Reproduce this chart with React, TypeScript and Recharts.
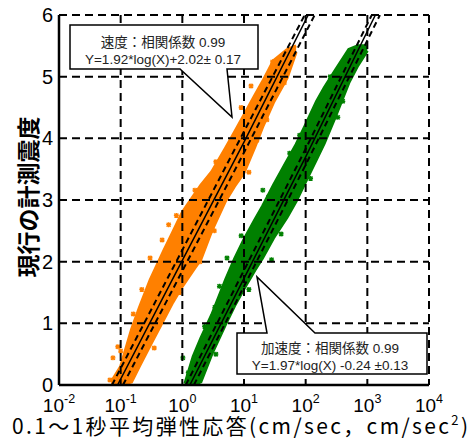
import React from "react";
import {
  ComposedChart,
  Area,
  Line,
  Scatter,
  XAxis,
  YAxis,
  CartesianGrid,
} from "recharts";

const W = 476;
const H = 443;
const ORANGE = "#ff8000";
const GREEN = "#008000";
const NUM_FONT = "'Liberation Sans', Arial, sans-serif";
const JP_FONT = "'Noto Sans CJK JP', sans-serif";
const MIX_FONT = "'Liberation Sans', Arial, 'Noto Sans CJK JP', sans-serif";

// axis ticks
const xTicks = [0.01, 0.1, 1, 10, 100, 1000, 10000];
const yTicks = [0, 1, 2, 3, 4, 5, 6];
const yMinorTicks = [0.5, 1.5, 2.5, 3.5, 4.5, 5.5];
const xMinorTicks = [0.01, 0.1, 1, 10, 100, 1000].flatMap((d) =>
  [2, 3, 4, 5, 6, 7, 8, 9].map((m) => +(m * d).toPrecision(2))
);

// velocity (orange) cloud: dense band
const velBandX = [0.07, 0.1, 0.15, 0.2, 0.3, 0.5, 0.7, 1, 1.5, 2, 3, 5, 7, 10, 15, 20, 30, 50, 70];
const velBandLo = [0, 0, 0.05, 0.3, 0.64, 1.06, 1.34, 1.6, 1.86, 2.04, 2.5, 2.98, 3.22, 3.44, 3.86, 4.18, 4.58, 4.98, 5.4];
const velBandHi = [0.05, 0.3, 0.9, 1.25, 1.7, 2.18, 2.48, 2.8, 3.06, 3.24, 3.46, 3.84, 4.1, 4.38, 4.7, 4.92, 5.26, 5.44, 5.5];
// loose points around the velocity band
const velPtsX = [0.067, 0.075, 0.09, 0.3, 0.47, 1.93, 2.16, 1.6, 5.9, 16.2, 23.5, 29, 0.6, 0.1, 0.16, 0.22, 0.8, 3.5, 9, 13, 0.35, 0.9, 3.3, 12, 45];
const velPtsY = [0.08, 0.44, 0.62, 2.06, 2.35, 2.0, 2.46, 3.16, 3.6, 3.97, 4.3, 5.24, 2.6, 0.55, 1.15, 1.55, 2.75, 3.62, 4.5, 4.85, 0.6, 1.5, 2.5, 3.45, 4.9];

// acceleration (green) cloud
const accBandX = [1.1, 1.5, 2, 3, 5, 7, 10, 15, 20, 30, 50, 70, 100, 150, 200, 300, 500, 700, 1000];
const accBandLo = [0, 0, 0.05, 0.5, 0.98, 1.28, 1.56, 1.86, 2.06, 2.38, 2.72, 2.98, 3.3, 3.66, 3.92, 4.34, 4.9, 5.18, 5.42];
const accBandHi = [0.02, 0.46, 0.76, 1.14, 1.7, 2.04, 2.36, 2.68, 2.9, 3.24, 3.64, 3.9, 4.22, 4.6, 4.82, 5.1, 5.44, 5.5, 5.5];
const accPtsX = [1.02, 1.25, 3.37, 5.3, 28, 20.2, 55, 170, 332, 520, 2.3, 4, 9, 25, 80, 250, 3.5, 12, 40, 120, 400];
const accPtsY = [0.44, 0.2, 1.26, 2.06, 2.03, 3.16, 3.76, 4.57, 4.34, 5.27, 0.95, 1.6, 2.42, 3.05, 4.05, 5.0, 0.5, 1.55, 2.45, 3.35, 4.6];

// regression lines (solid) and +/- sigma (dashed)
const velFitX = [0.089, 1, 10, 110];
const velFitY = [0, 2.02, 3.94, 6];
const velUpX = [0.0723, 1, 10, 96.5];
const velUpY = [0, 2.19, 4.11, 6];
const velLoX = [0.109, 1, 10, 140];
const velLoY = [0, 1.85, 3.77, 6];

const accFitX = [1.324, 10, 100, 1350];
const accFitY = [0, 1.73, 3.7, 6];
const accUpX = [1.137, 10, 100, 1180];
const accUpY = [0, 1.86, 3.83, 6];
const accLoX = [1.541, 10, 100, 1600];
const accLoY = [0, 1.6, 3.57, 6];

const toBand = (xs: number[], lo: number[], hi: number[]) =>
  xs.map((x, i) => ({ x, range: [lo[i], hi[i]] }));
const toPts = (xs: number[], ys: number[]) => xs.map((x, i) => ({ x, y: ys[i] }));

function XTick(props: any) {
  const { x, y, payload } = props;
  const exp = Math.round(Math.log10(payload.value));
  return (
    <text x={x} y={y + 25} textAnchor="middle" fontSize={19} fontFamily={NUM_FONT} fill="#000">
      10
      <tspan dy={-9} fontSize={12.5}>
        {exp}
      </tspan>
    </text>
  );
}

// small asterisk-like marker, as in the original scatter
const marker = (color: string) => (props: any) => {
  const { cx, cy } = props;
  if (cx == null || cy == null) return <g />;
  const r = 2;
  return (
    <path
      d={`M${cx - r},${cy - r}L${cx + r},${cy + r}M${cx - r},${cy + r}L${cx + r},${cy - r}M${cx - 2.5},${cy}L${cx + 2.5},${cy}M${cx},${cy - 2.5}L${cx},${cy + 2.5}`}
      stroke={color}
      strokeWidth={1.3}
    />
  );
};

const frame = { stroke: "#000", strokeWidth: 2.5 };
const minorLine = { stroke: "#000", strokeWidth: 1.3 };

export default function App() {
  return (
    <div style={{ position: "absolute", left: 0, top: 0, width: W, height: H, background: "#fff" }}>
      <ComposedChart width={W} height={H} margin={{ top: 15, right: 47, bottom: 0, left: 0 }}>
        <XAxis
          dataKey="x"
          type="number"
          scale="log"
          domain={[0.01, 10000]}
          ticks={xTicks}
          interval={0}
          allowDataOverflow
          height={58}
          tickLine={false}
          tickSize={0}
          axisLine={frame}
          tick={<XTick />}
        />
        <XAxis
          xAxisId="minB"
          dataKey="x"
          type="number"
          scale="log"
          domain={[0.01, 10000]}
          ticks={xMinorTicks}
          interval={0}
          allowDataOverflow
          mirror
          height={0}
          axisLine={false}
          tick={false}
          tickSize={4}
          tickLine={minorLine}
        />
        <XAxis
          xAxisId="minT"
          orientation="top"
          dataKey="x"
          type="number"
          scale="log"
          domain={[0.01, 10000]}
          ticks={xMinorTicks}
          interval={0}
          allowDataOverflow
          mirror
          height={0}
          axisLine={frame}
          tick={false}
          tickSize={4}
          tickLine={minorLine}
        />
        <YAxis
          type="number"
          domain={[0, 6]}
          ticks={yTicks}
          interval={0}
          allowDataOverflow
          width={59}
          tickLine={false}
          tickMargin={0}
          axisLine={frame}
          tick={{ fontSize: 20, fill: "#000", fontFamily: NUM_FONT }}
        />
        <YAxis
          yAxisId="minL"
          type="number"
          domain={[0, 6]}
          ticks={yMinorTicks}
          interval={0}
          allowDataOverflow
          mirror
          width={0}
          axisLine={false}
          tick={false}
          tickSize={5}
          tickLine={minorLine}
        />
        <YAxis
          yAxisId="minR"
          orientation="right"
          type="number"
          domain={[0, 6]}
          ticks={yMinorTicks}
          interval={0}
          allowDataOverflow
          mirror
          width={0}
          axisLine={frame}
          tick={false}
          tickSize={5}
          tickLine={minorLine}
        />

        <Area
          data={toBand(velBandX, velBandLo, velBandHi)}
          dataKey="range"
          type="linear"
          fill={ORANGE}
          fillOpacity={1}
          stroke={ORANGE}
          strokeWidth={3}
          isAnimationActive={false}
          zIndex={100}
        />
        <Area
          data={toBand(accBandX, accBandLo, accBandHi)}
          dataKey="range"
          type="linear"
          fill={GREEN}
          fillOpacity={1}
          stroke={GREEN}
          strokeWidth={3}
          isAnimationActive={false}
          zIndex={100}
        />
        <Scatter
          data={toPts(velPtsX, velPtsY)}
          dataKey="y"
          shape={marker(ORANGE)}
          isAnimationActive={false}
          zIndex={150}
        />
        <Scatter
          data={toPts(accPtsX, accPtsY)}
          dataKey="y"
          shape={marker(GREEN)}
          isAnimationActive={false}
          zIndex={150}
        />

        <CartesianGrid stroke="#000" strokeWidth={2} strokeDasharray="8 5" zIndex={200} />

        <Line data={toPts(velFitX, velFitY)} dataKey="y" type="linear" stroke="#000" strokeWidth={1.5} dot={false} isAnimationActive={false} />
        <Line data={toPts(velUpX, velUpY)} dataKey="y" type="linear" stroke="#000" strokeWidth={2} strokeDasharray="6 4" dot={false} isAnimationActive={false} />
        <Line data={toPts(velLoX, velLoY)} dataKey="y" type="linear" stroke="#000" strokeWidth={2} strokeDasharray="6 4" dot={false} isAnimationActive={false} />
        <Line data={toPts(accFitX, accFitY)} dataKey="y" type="linear" stroke="#000" strokeWidth={1.5} dot={false} isAnimationActive={false} />
        <Line data={toPts(accUpX, accUpY)} dataKey="y" type="linear" stroke="#000" strokeWidth={2} strokeDasharray="6 4" dot={false} isAnimationActive={false} />
        <Line data={toPts(accLoX, accLoY)} dataKey="y" type="linear" stroke="#000" strokeWidth={2} strokeDasharray="6 4" dot={false} isAnimationActive={false} />
      </ComposedChart>

      <svg width={W} height={H} style={{ position: "absolute", left: 0, top: 0, pointerEvents: "none" }}>
        {/* axis titles */}
        <text
          transform="translate(27,197) rotate(-90)"
          textAnchor="middle"
          dominantBaseline="central"
          fontSize={23}
          fontWeight="bold"
          fontFamily={JP_FONT}
          fill="#000"
        >
          現行の計測震度
        </text>
        <text x={12} y={434} fontSize={21} fontFamily={JP_FONT} fill="#000" textLength={456} lengthAdjust="spacing">
          0.1～1秒平均弾性応答(cm/sec，cm/sec
          <tspan dy={-9} fontSize={13}>2</tspan>
          <tspan dy={9}>)</tspan>
        </text>

        {/* velocity callout */}
        <polygon
          points="70,25 258,25 258,69 227,69 232,117 180,69 70,69"
          fill="#fff"
          stroke="#000"
          strokeWidth={1.5}
        />
        <text x={163} y={47} textAnchor="middle" fontSize={13.5} fontFamily={MIX_FONT} fill="#222">
          速度：相関係数 0.99
        </text>
        <text x={163} y={64} textAnchor="middle" fontSize={13.5} fontFamily={NUM_FONT} fill="#222">
          Y=1.92*log(X)+2.02± 0.17
        </text>

        {/* acceleration callout */}
        <polygon
          points="237,333 267,333 257,277 315,333 427,333 427,374 237,374"
          fill="#fff"
          stroke="#000"
          strokeWidth={1.5}
        />
        <text x={330} y={353} textAnchor="middle" fontSize={13.5} fontFamily={MIX_FONT} fill="#222">
          加速度：相関係数 0.99
        </text>
        <text x={330} y={370} textAnchor="middle" fontSize={13.5} fontFamily={NUM_FONT} fill="#222">
          Y=1.97*log(X) -0.24 ±0.13
        </text>
      </svg>
    </div>
  );
}
